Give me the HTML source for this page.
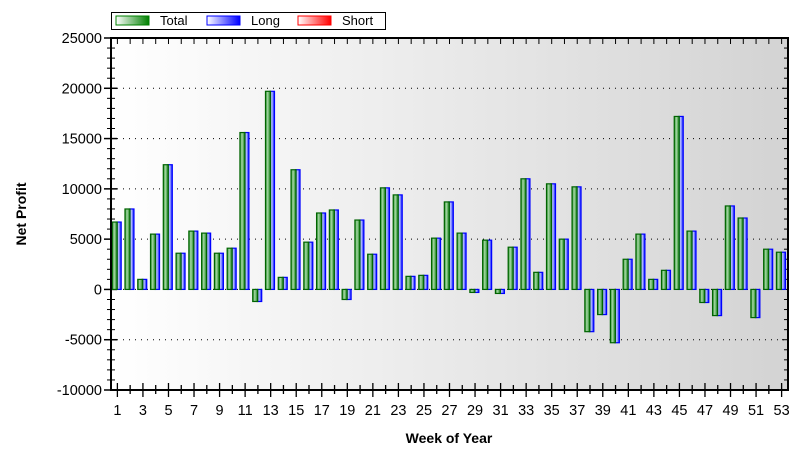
<!DOCTYPE html>
<html><head><meta charset="utf-8"><style>body{margin:0;background:#fff}svg{display:block}text{font-family:"Liberation Sans",Arial,sans-serif}</style></head><body>
<svg id="c" width="812" height="462" xmlns="http://www.w3.org/2000/svg">
<defs>
<linearGradient id="bg" x1="0" x2="1" y1="0" y2="0"><stop offset="0" stop-color="#ffffff"/><stop offset="1" stop-color="#d3d3d3"/></linearGradient>
<linearGradient id="gg" x1="0" x2="1"><stop offset="0" stop-color="#1a8a1a"/><stop offset="0.4" stop-color="#a8d8a8"/><stop offset="1" stop-color="#108010"/></linearGradient>
<linearGradient id="bb" x1="0" x2="1"><stop offset="0" stop-color="#2233ff"/><stop offset="0.4" stop-color="#c0c6ff"/><stop offset="1" stop-color="#0010ff"/></linearGradient>
<linearGradient id="lg" x1="0" x2="1"><stop offset="0" stop-color="#fff"/><stop offset="1" stop-color="#008000"/></linearGradient>
<linearGradient id="lb" x1="0" x2="1"><stop offset="0" stop-color="#fff"/><stop offset="1" stop-color="#0000ff"/></linearGradient>
<linearGradient id="lr" x1="0" x2="1"><stop offset="0" stop-color="#fff"/><stop offset="1" stop-color="#ff0000"/></linearGradient>
</defs>
<rect x="111" y="38" width="677" height="352" fill="url(#bg)"/>
<g id="g"></g>
<rect x="111" y="38" width="677" height="352" fill="none" stroke="#000" stroke-width="2"/>
<rect x="111.5" y="12.5" width="274" height="17" fill="#fff" stroke="#000"/>
<rect x="116" y="16" width="33" height="9" fill="url(#lg)" stroke="#008000"/>
<text x="160" y="25" font-size="13">Total</text>
<rect x="207" y="16" width="33" height="9" fill="url(#lb)" stroke="#0000ff"/>
<text x="251" y="25" font-size="13">Long</text>
<rect x="298" y="16" width="33" height="9" fill="url(#lr)" stroke="#ff0000"/>
<text x="342" y="25" font-size="13">Short</text>
<text transform="translate(26,214) rotate(-90)" text-anchor="middle" font-size="14" font-weight="bold">Net Profit</text>
<text x="449" y="443" text-anchor="middle" font-size="14" font-weight="bold">Week of Year</text>
</svg>
<script>
(function(){
var v=[6700,8000,1000,5500,12400,3600,5800,5600,3600,4100,15600,-1200,19700,1200,11900,4700,7600,7900,-1000,6900,3500,10100,9400,1300,1400,5100,8700,5600,-300,4900,-400,4200,11000,1700,10500,5000,10200,-4200,-2500,-5300,3000,5500,1000,1900,17200,5800,-1300,-2600,8300,7100,-2800,4000,3700];
var s='',T=38,B=390,L=111,R=788;function Y(x){return T+(25000-x)*(B-T)/35000;}
for(var k=-10000;k<=25000;k+=1000){var y=Y(k);var maj=k%5000==0;
 if(maj){if(k>-10000&&k<25000)s+='<line x1="'+L+'" x2="'+R+'" y1="'+y+'" y2="'+y+'" stroke="#000" stroke-dasharray="1,5"/>';
 s+='<line x1="104" x2="117" y1="'+y+'" y2="'+y+'" stroke="#000" stroke-width="1.5"/><line x1="782" x2="'+R+'" y1="'+y+'" y2="'+y+'" stroke="#000"/>';
 s+='<text x="102" y="'+(y+5)+'" text-anchor="end" font-size="14.5">'+k+'</text>';}
 else s+='<line x1="107" x2="115" y1="'+y+'" y2="'+y+'" stroke="#000"/><line x1="784" x2="'+R+'" y1="'+y+'" y2="'+y+'" stroke="#000"/>';}
var w=(R-L)/53;
for(var i=0;i<53;i++){var c=L+(i+0.5)*w;var odd=i%2==0;
 s+='<line x1="'+c+'" x2="'+c+'" y1="'+(odd?383:385)+'" y2="'+(odd?397:394)+'" stroke="#000" stroke-width="1.3"/>';
 s+='<line x1="'+c+'" x2="'+c+'" y1="38" y2="44" stroke="#000"/>';
 if(odd)s+='<text x="'+c+'" y="415" text-anchor="middle" font-size="14.5">'+(i+1)+'</text>';
 var y0=Y(0),y1=Y(v[i]),yt=Math.min(y0,y1),h=Math.abs(y1-y0);var gx=L+i*w+1.2;
 s+='<rect x="'+(gx+4.5)+'" y="'+yt+'" width="4.5" height="'+h+'" fill="url(#bb)" stroke="#0000ff" stroke-width="1.2"/>';
 s+='<rect x="'+gx+'" y="'+yt+'" width="5" height="'+h+'" fill="url(#gg)" stroke="#006400" stroke-width="1.2"/>';}
document.getElementById('g').innerHTML=s;
})();
</script>
</body></html>
